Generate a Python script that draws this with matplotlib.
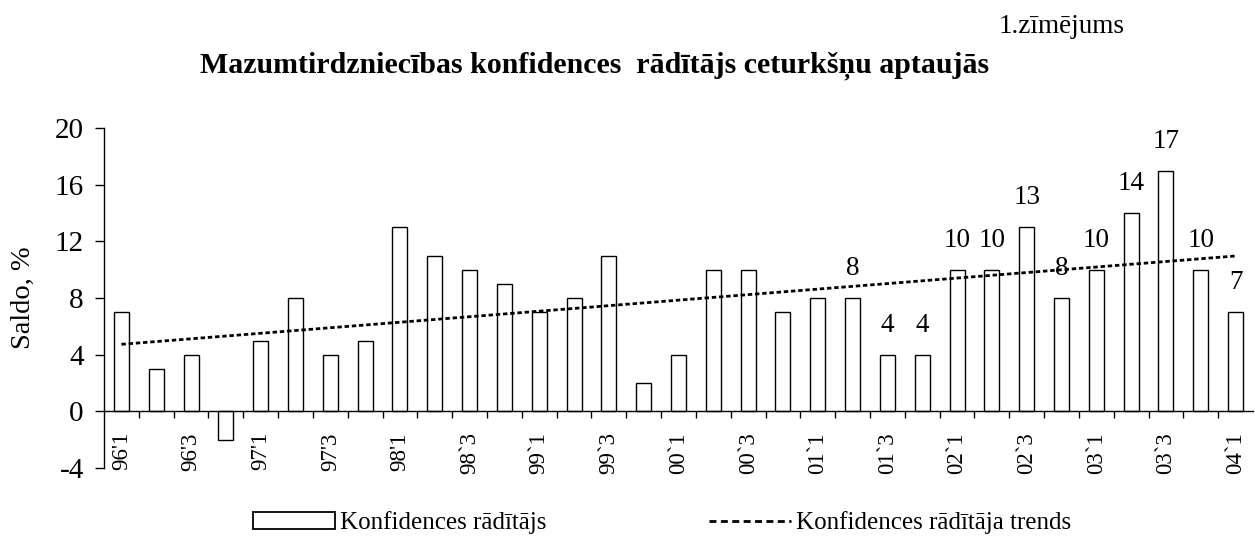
import matplotlib
matplotlib.use("Agg")
import matplotlib.pyplot as plt
import numpy as np
from matplotlib.patches import Patch
from matplotlib.lines import Line2D

plt.rcParams["font.family"] = ["Liberation Serif", "DejaVu Serif"]

# ---- data ----
quarters = [
    "96'1", "96'2", "96'3", "96'4",
    "97'1", "97'2", "97'3", "97'4",
    "98'1", "98`2", "98`3", "98`4",
    "99`1", "99`2", "99`3", "99`4",
    "00`1", "00`2", "00`3", "00`4",
    "01`1", "01`2", "01`3", "01`4",
    "02`1", "02`2", "02`3", "02`4",
    "03`1", "03`2", "03`3", "03`4",
    "04`1",
]
values = [7, 3, 4, -2, 5, 8, 4, 5,
          13, 11, 10, 9, 7, 8, 11, 2,
          4, 10, 10, 7, 8, 8, 4, 4,
          10, 10, 13, 8, 10, 14, 17, 10,
          7]
tick_labels = ["96'1", "96'3", "97'1", "97'3", "98'1", "98`3", "99`1", "99`3",
               "00`1", "00`3", "01`1", "01`3", "02`1", "02`3", "03`1", "03`3", "04`1"]
labeled_quarters = ["01`2", "01`3", "01`4", "02`1", "02`2", "02`3", "02`4",
                    "03`1", "03`2", "03`3", "03`4", "04`1"]
yticks = [-4, 0, 4, 8, 12, 16, 20]

title = "Mazumtirdzniecības konfidences  rādītājs ceturkšņu aptaujās"
fig_note = "1.zīmējums"
ylabel = "Saldo, %"
legend_labels = ["Konfidences rādītājs", "Konfidences rādītāja trends"]

# ---- figure ----
W, H = 1255, 537
fig = plt.figure(figsize=(W / 100, H / 100), dpi=100)
ax = fig.add_axes([104 / W, 1 - 468 / H, (1253 - 104) / W, (468 - 128) / H])

x = np.arange(len(quarters))
ax.bar(x, values, width=0.43, facecolor="white", edgecolor="black", linewidth=1.0, zorder=2)

# linear trend (as in the spreadsheet trendline)
coef = np.polyfit(x, values, 1)
trend = np.polyval(coef, x)
ax.plot(x, trend, color="black", linewidth=2.0, dashes=(1.6, 1.0), zorder=3)

# data labels
for q in labeled_quarters:
    i = quarters.index(q)
    ax.annotate(str(values[i]), (i, values[i]), xytext=(0, 16.5), textcoords="offset points",
                ha="center", va="baseline", fontsize=19.5)

ax.set_xlim(-0.5, len(quarters) - 0.5)
ax.set_ylim(-4, 20)
ax.set_yticks(yticks)
ax.set_yticklabels([str(v) for v in yticks])

ax.spines["top"].set_visible(False)
ax.spines["right"].set_visible(False)
ax.spines["bottom"].set_position(("data", 0))
ax.spines["bottom"].set_linewidth(1.0)
ax.spines["left"].set_linewidth(1.0)

# boundary ticks (major) and labels at category centres (minor)
ax.set_xticks(np.arange(0.5, len(quarters) - 0.5, 1.0))
ax.set_xticklabels([])
ax.set_xticks([quarters.index(t) for t in tick_labels], tick_labels, minor=True)
ax.tick_params(axis="x", which="major", direction="out", length=5, width=1.0)
ax.tick_params(axis="x", which="minor", length=0, pad=15, labelsize=16.5, labelrotation=90)
ax.tick_params(axis="y", direction="out", length=6.5, width=1.0, pad=8, labelsize=21)

ax.set_ylabel(ylabel, fontsize=20.5)
ax.yaxis.set_label_coords((36 - 104) / (1253 - 104), 0.5)

fig.text(595 / W, 1 - 72 / H, title, ha="center", va="baseline", fontsize=21.5, fontweight="bold")
fig.text(1125 / W, 1 - 33 / H, fig_note, ha="right", va="baseline", fontsize=19.5)

handles = [Patch(facecolor="white", edgecolor="black", linewidth=1.3),
           Line2D([], [], color="black", linewidth=2.0, dashes=(2.5, 1.6))]
fig.legend(handles, legend_labels, loc="center", bbox_to_anchor=(662 / W, 1 - 523 / H),
           ncol=2, frameon=False, fontsize=18, handlelength=3.3, handletextpad=0.2,
           columnspacing=6.5, borderpad=0, borderaxespad=0)

fig.savefig("out.png", dpi=100)
